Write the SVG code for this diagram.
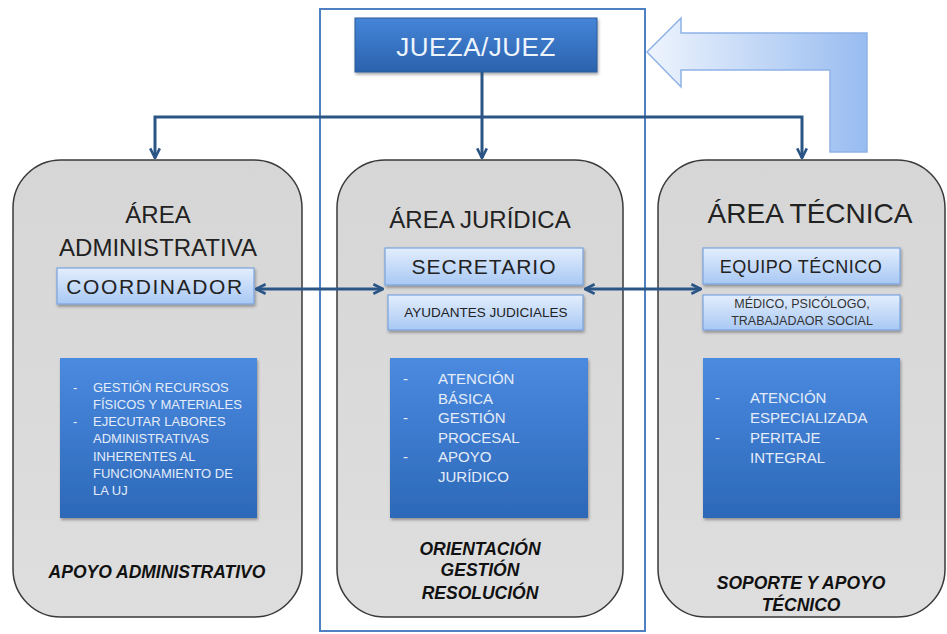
<svg xmlns="http://www.w3.org/2000/svg" width="947" height="634" viewBox="0 0 947 634">
<defs>
<linearGradient id="gArea" x1="0" y1="0" x2="0" y2="1"><stop offset="0" stop-color="#d6d6d6"/><stop offset="1" stop-color="#dedede"/></linearGradient>
<linearGradient id="gLight" x1="0" y1="0" x2="0" y2="1"><stop offset="0" stop-color="#e3eefd"/><stop offset="1" stop-color="#a8c8f4"/></linearGradient>
<linearGradient id="gDark" x1="0" y1="0" x2="0" y2="1"><stop offset="0" stop-color="#4a8ae0"/><stop offset="1" stop-color="#2d68b8"/></linearGradient>
<linearGradient id="gJuez" x1="0" y1="0" x2="0" y2="1"><stop offset="0" stop-color="#4585d8"/><stop offset="1" stop-color="#2b62ad"/></linearGradient>
<linearGradient id="gBig" x1="0" y1="0" x2="1" y2="0"><stop offset="0" stop-color="#eef4fd"/><stop offset="1" stop-color="#98bcf0"/></linearGradient>
<filter id="sh" x="-10%" y="-10%" width="130%" height="130%"><feDropShadow dx="1" dy="2" stdDeviation="1.5" flood-color="#000" flood-opacity="0.35"/></filter>
<marker id="ah" viewBox="0 0 10 10" refX="9" refY="5" markerWidth="4" markerHeight="4" orient="auto-start-reverse"><path d="M1,1 L9,5 L1,9" fill="none" stroke="#2b5585" stroke-width="2.2"/></marker>
</defs>
<style>
.area{fill:url(#gArea);stroke:#3a3a3a;stroke-width:1.5}
.light{fill:url(#gLight);stroke:#7aa3dc;stroke-width:1.2}
.dark{fill:url(#gDark);filter:url(#sh)}
.t{font-family:"Liberation Sans",Arial,sans-serif;fill:#222}
.title{font-size:24px;text-anchor:middle}
.lbl{font-size:20px;text-anchor:middle;letter-spacing:1px}
.sm{font-size:13.5px;text-anchor:middle}
.w{font-family:"Liberation Sans",Arial,sans-serif;fill:#e4ecf8;font-size:13px}
.bi{font-family:"Liberation Sans",Arial,sans-serif;font-weight:bold;font-style:italic;font-size:17.5px;fill:#111;text-anchor:middle}
.con{fill:none;stroke:#2b5585;stroke-width:3}
</style>

<rect x="320" y="9" width="325" height="622" fill="none" stroke="#4f80c2" stroke-width="2"/>

<g id="big-arrow">
<path d="M867,33 L867,152 L830,152 L830,70 L681,70 L681,87 L647,52 L681,18 L681,33 Z" fill="url(#gBig)" stroke="#8fb2e8" stroke-width="1.5"/>
</g>

<g id="area-admin">
<rect class="area" x="13" y="160" width="289" height="457" rx="48"/>
<text class="t title" x="158" y="223">ÁREA</text>
<text class="t title" x="158" y="256">ADMINISTRATIVA</text>
<rect class="light" x="57" y="268" width="197" height="36" filter="url(#sh)"/>
<text class="t lbl" x="155" y="294" style="font-size:21px;letter-spacing:1.6px">COORDINADOR</text>
<rect class="dark" x="60" y="358" width="197" height="160"/>
<g class="w">
<text x="73" y="392">-</text><text x="93" y="392">GESTIÓN RECURSOS</text>
<text x="93" y="409">FÍSICOS Y MATERIALES</text>
<text x="73" y="426">-</text><text x="93" y="426">EJECUTAR LABORES</text>
<text x="93" y="443">ADMINISTRATIVAS</text>
<text x="93" y="461">INHERENTES AL</text>
<text x="93" y="478">FUNCIONAMIENTO DE</text>
<text x="93" y="495">LA UJ</text>
</g>
<text class="bi" x="157" y="578">APOYO ADMINISTRATIVO</text>
</g>

<g id="area-juridica">
<rect class="area" x="337" y="160" width="286" height="457" rx="48"/>
<text class="t title" x="480" y="228">ÁREA  JURÍDICA</text>
<rect class="light" x="385" y="248" width="198" height="37" filter="url(#sh)"/>
<text class="t lbl" x="484" y="274" style="font-size:21px">SECRETARIO</text>
<rect class="light" x="388" y="295" width="195" height="35" filter="url(#sh)"/>
<text class="t sm" x="486" y="317">AYUDANTES JUDICIALES</text>
<rect class="dark" x="390" y="358" width="198" height="160"/>
<g class="w" style="font-size:15px">
<text x="403" y="384">-</text><text x="438" y="384">ATENCIÓN</text>
<text x="438" y="404">BÁSICA</text>
<text x="403" y="423">-</text><text x="438" y="423">GESTIÓN</text>
<text x="438" y="443">PROCESAL</text>
<text x="403" y="462">-</text><text x="438" y="462">APOYO</text>
<text x="438" y="482">JURÍDICO</text>
</g>
<text class="bi" x="480" y="555">ORIENTACIÓN</text>
<text class="bi" x="480" y="576">GESTIÓN</text>
<text class="bi" x="480" y="599">RESOLUCIÓN</text>
</g>

<g id="area-tecnica">
<rect class="area" x="658" y="160" width="287" height="457" rx="48"/>
<text class="t title" x="810" y="223" style="font-size:28px">ÁREA TÉCNICA</text>
<rect class="light" x="703" y="248" width="197" height="36" filter="url(#sh)"/>
<text class="t lbl" x="801" y="273" style="font-size:18px;letter-spacing:0.5px">EQUIPO TÉCNICO</text>
<rect class="light" x="703" y="295" width="197" height="35" filter="url(#sh)"/>
<text class="t sm" x="802" y="308" style="font-size:12.5px;fill:#333">MÉDICO, PSICÓLOGO,</text>
<text class="t sm" x="802" y="325" style="font-size:12.5px;fill:#333">TRABAJADAOR SOCIAL</text>
<rect class="dark" x="703" y="358" width="197" height="160"/>
<g class="w" style="font-size:15px">
<text x="715" y="403">-</text><text x="750" y="403">ATENCIÓN</text>
<text x="750" y="423">ESPECIALIZADA</text>
<text x="715" y="443">-</text><text x="750" y="443">PERITAJE</text>
<text x="750" y="463">INTEGRAL</text>
</g>
<text class="bi" x="801" y="589">SOPORTE Y APOYO</text>
<text class="bi" x="801" y="611">TÉCNICO</text>
</g>

<g id="jueza">
<rect x="355" y="18" width="242" height="54" fill="url(#gJuez)" stroke="#2a5a9a" stroke-width="1" filter="url(#sh)"/>
<text x="476" y="56" style="font-family:'Liberation Sans',Arial,sans-serif;font-size:26px;letter-spacing:0.5px;fill:#eef4fc;text-anchor:middle">JUEZA/JUEZ</text>
</g>

<g id="connectors">
<path class="con" d="M482,72 L482,158" marker-end="url(#ah)"/>
<path class="con" d="M155,158 L155,117 L802,117 L802,158" marker-start="url(#ah)" marker-end="url(#ah)"/>
<path class="con" d="M256,289 L383,289" marker-start="url(#ah)" marker-end="url(#ah)"/>
<path class="con" d="M585,289 L701,289" marker-start="url(#ah)" marker-end="url(#ah)"/>
</g>
</svg>
